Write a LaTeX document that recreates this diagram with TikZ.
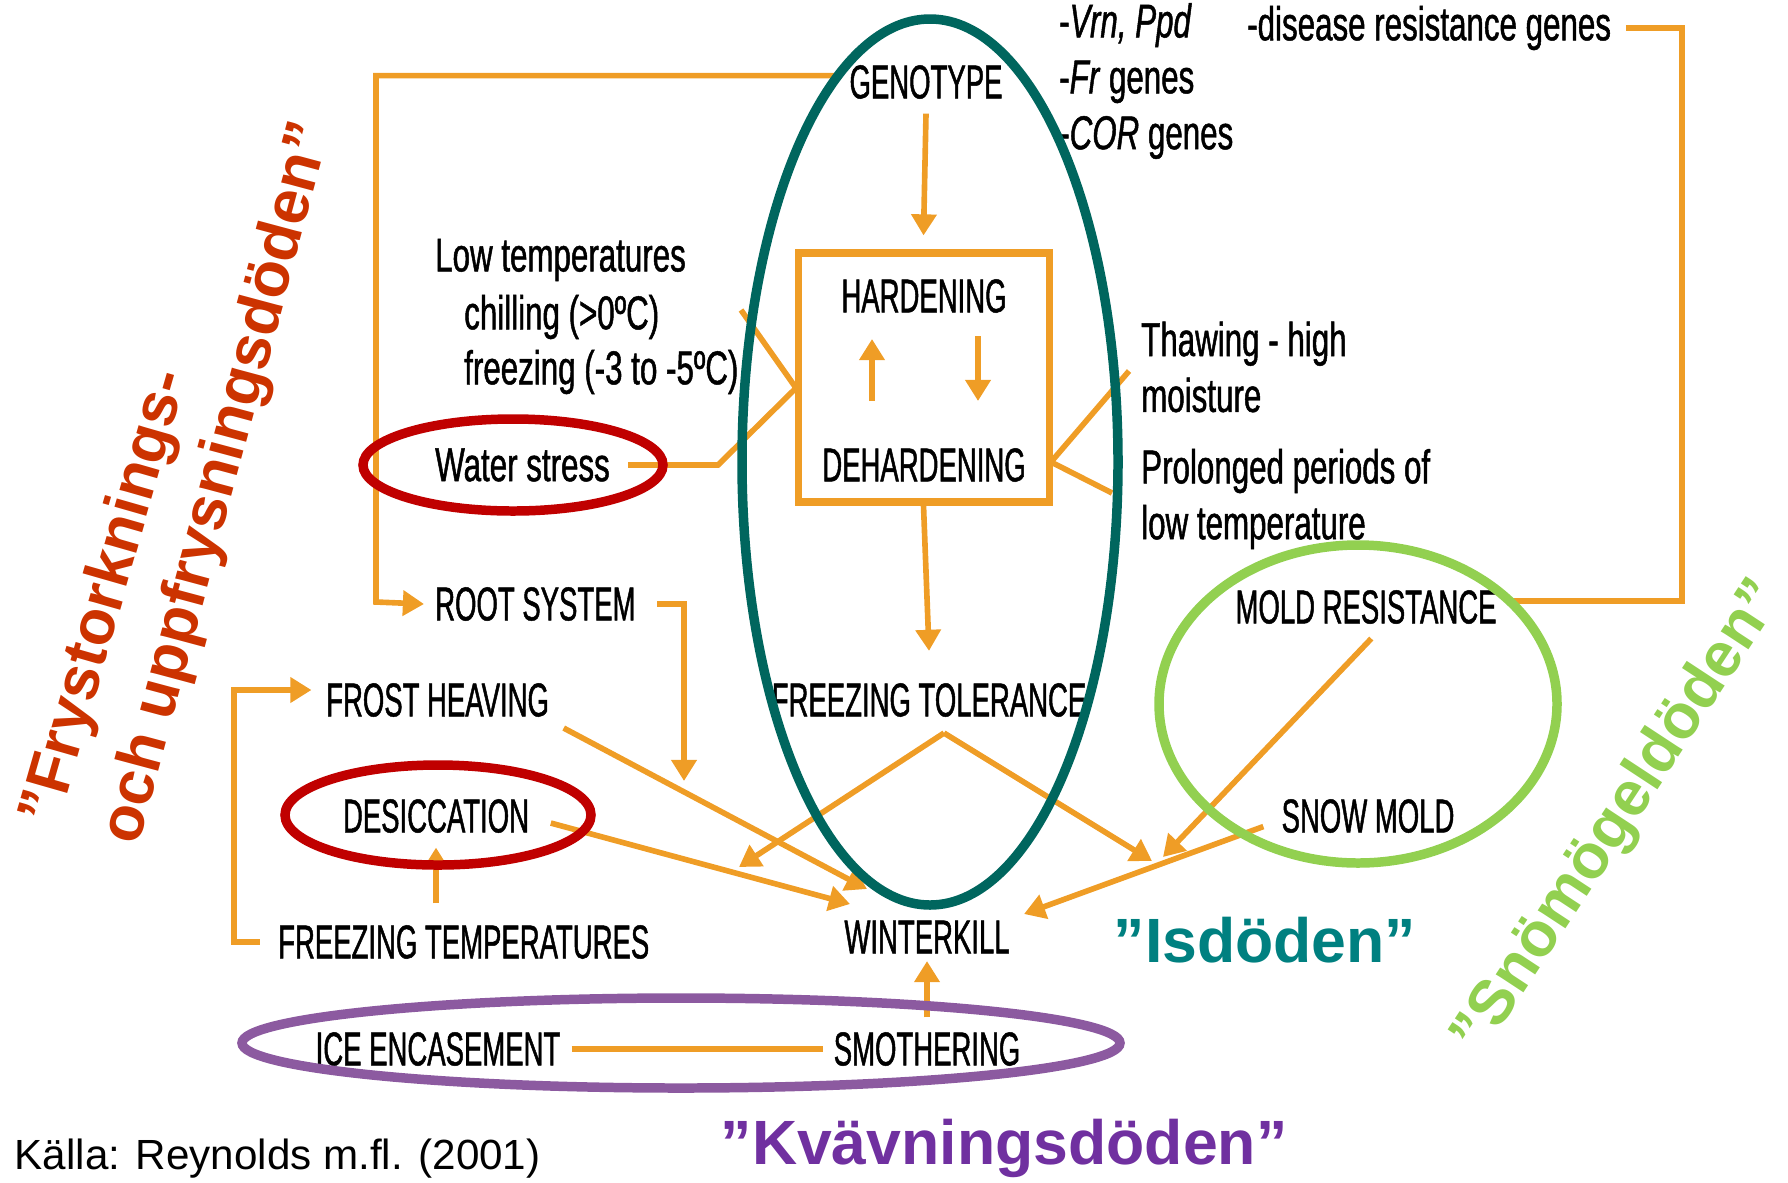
\documentclass[tikz,border=0pt]{standalone}
\usepackage{fontspec}
\setmainfont{Liberation Sans}
\newfontfamily\condcaps[FakeStretch=0.58,FakeBold=1]{Liberation Sans}
\newfontfamily\condtext[FakeStretch=0.66,FakeBold=1]{Liberation Sans}
\usepackage{tikz}
\usetikzlibrary{arrows.meta}
\usetikzlibrary{positioning}
\definecolor{flowor}{RGB}{239,157,38}
\definecolor{ringteal}{RGB}{0,102,94}
\definecolor{ringred}{RGB}{192,0,0}
\definecolor{ringgreen}{RGB}{146,208,80}
\definecolor{ringpurple}{RGB}{140,90,160}
\definecolor{isteal}{RGB}{0,128,128}
\definecolor{kvpurple}{RGB}{112,48,160}
\definecolor{frred}{RGB}{204,51,0}
\tikzset{
  flow/.style={draw=flowor, line width=1.6pt},
  flowarr/.style={flow, -{Triangle[length=6pt,width=7pt]}},
  caps/.style={font=\condcaps\fontsize{13.5}{15.9}\selectfont, inner sep=1pt},
  words/.style={font=\condtext\fontsize{13.5}{15.9}\selectfont, inner sep=1pt, anchor=west},
  death/.style={font=\bfseries\fontsize{17.8}{20}\selectfont, inner sep=0pt},
  ring/.style={line width=2.7pt}
}

\begin{document}
\begin{tikzpicture}
    \useasboundingbox (0,0) rectangle (17.88,11.82);

    \node[caps] (genotype) at (9.26,11.00) {GENOTYPE};
    \node[words, align=left] (genes) at (10.55,11.01) {-\textit{Vrn, Ppd}\\-\textit{Fr} genes\\-\textit{COR} genes};
    \node[words] (disease) at (12.43,11.54) {-disease resistance genes};

    \node[draw=flowor, line width=2pt, minimum width=2.51cm, minimum height=2.49cm] (hdbox) at (9.235,8.045) {};
    \node[caps] (hard) at (9.24,8.86) {HARDENING};
    \node[caps] (dehard) at (9.24,7.17) {DEHARDENING};

    \node[words] (lowtemp) at (4.31,9.22) {Low temperatures};
    \node[words] (chill) at (4.60,8.65) {chilling (>0ºC)};
    \node[words] (freeze) at (4.60,8.10) {freezing (-3 to -5ºC)};
    \node[words] (water) at (4.31,7.17) {Water stress};
    \node[words, align=left] (thaw) at (11.37,8.15) {Thawing - high\\moisture};
    \node[words, align=left] (prolong) at (11.37,6.83) {Prolonged periods of\\low temperature};

    \node[caps, anchor=west] (root) at (4.31,5.78) {ROOT SYSTEM};
    \node[caps] (freezetol) at (9.29,4.82) {FREEZING TOLERANCE};
    \node[caps, anchor=west] (frost) at (3.22,4.82) {FROST HEAVING};
    \node[caps] (desic) at (4.36,3.66) {DESICCATION};
    \node[caps, anchor=west] (freezetemp) at (2.74,2.40) {FREEZING TEMPERATURES};
    \node[caps] (winterkill) at (9.27,2.45) {WINTERKILL};
    \node[caps] (moldres) at (13.66,5.75) {MOLD RESISTANCE};
    \node[caps] (snow) at (13.68,3.66) {SNOW MOLD};
    \node[caps] (ice) at (4.38,1.33) {ICE ENCASEMENT};
    \node[caps] (smother) at (9.27,1.33) {SMOTHERING};

    \coordinate (gtcorner) at (3.76,5.80);
    \coordinate (rootdrop) at (6.84,4.01);
    \coordinate (ftcorner) at (2.34,4.92);
    \coordinate (lowtop) at (7.41,8.72);
    \coordinate (tempin) at (7.96,7.94);
    \coordinate (waterbend) at (7.18,7.17);
    \coordinate (dejoin) at (10.51,7.20);
    \coordinate (thawend) at (11.29,8.11);
    \coordinate (prolend) at (11.12,6.89);
    \coordinate (upA) at (8.72,7.81);
    \coordinate (upB) at (8.72,8.43);
    \coordinate (downA) at (9.78,8.46);
    \coordinate (downB) at (9.78,7.81);
    \coordinate (ftapex) at (9.44,4.49);
    \coordinate (ftleft) at (7.39,3.15);
    \coordinate (ftright) at (11.52,3.21);
    \coordinate (moldhit) at (11.63,3.25);
    \coordinate (wkfrost) at (8.67,2.93);
    \coordinate (wkdesic) at (8.50,2.78);
    \coordinate (wksnow) at (10.24,2.68);
    \coordinate (discorner) at (16.82,5.81);
    \coordinate (moldend) at (15.10,5.81);

    \draw[flowarr] ([yshift=-3pt]genotype.south) -- ([yshift=4pt]hdbox.north);
    \draw[flowarr] ([xshift=-3pt,yshift=1.8pt]genotype.west) -| (gtcorner) -- ([xshift=-2pt]root.west);
    \draw[flow] ([xshift=3pt]disease.east) -| (discorner) -- (moldend);
    \draw[flowarr] (upA) -- (upB);
    \draw[flowarr] (downA) -- (downB);
    \draw[flow] ([xshift=4pt]water.east) -- (waterbend) -- (tempin) -- (lowtop);
    \draw[flow] (thawend) -- (dejoin) -- (prolend);
    \draw[flowarr] (hdbox.south) -- ([yshift=8pt]freezetol.north);
    \draw[flowarr] ([xshift=5pt]root.east) -| (rootdrop);
    \draw[flowarr] ([xshift=-4pt]freezetemp.west) -| (ftcorner) -- ([xshift=-3pt]frost.west |- ftcorner);
    \draw[flowarr] ([xshift=3pt,yshift=-2pt]frost.south east) -- (wkfrost);
    \draw[flowarr] ([yshift=5pt]freezetemp.north -| desic.south) -- ([yshift=-3pt]desic.south);
    \draw[flowarr] ([xshift=5pt,yshift=-2pt]desic.east) -- (wkdesic);
    \draw[flowarr] (ftapex) -- (ftleft);
    \draw[flowarr] (ftapex) -- (ftright);
    \draw[flowarr] ([xshift=1.5pt,yshift=-3pt]moldres.south) -- (moldhit);
    \draw[flowarr] ([xshift=-4pt,yshift=-3pt]snow.west) -- (wksnow);
    \draw[flow] ([xshift=2pt]ice.east) -- ([xshift=-2pt]smother.west);
    \draw[flowarr] ([yshift=3pt]smother.north) -- ([yshift=-1pt]winterkill.south);

    \draw[ring, ringteal] (9.30,7.20) ellipse [x radius=1.88, y radius=4.43];
    \draw[ring, ringred] (5.13,7.17) ellipse [x radius=1.50, y radius=0.46];
    \draw[ring, ringred] (4.38,3.67) ellipse [x radius=1.53, y radius=0.50];
    \draw[ring, ringgreen] (13.58,4.78) ellipse [x radius=1.99, y radius=1.59];
    \draw[ring, ringpurple] (6.81,1.39) ellipse [x radius=4.39, y radius=0.45];

    \node[death, text=isteal] (isdoden) at (12.65,2.42) {”Isdöden”};
    \node[death, text=kvpurple] (kvav) at (10.04,0.34) {”Kvävningsdöden”};
    \node[death, text=ringgreen, rotate=56.7] (snomogel) at (16.20,3.64) {”Snömögeldöden”};
    \node[death, text=frred, rotate=74] (fryst1) at (1.07,5.84) {”Frystorknings-};
    \node[death, text=frred, rotate=75] (fryst2) at (2.19,6.99) {och uppfrysningsdöden”};
    \node[font=\fontsize{12}{14}\selectfont, anchor=west, inner sep=0pt] (kalla) at (0.14,0.23) {Källa: Reynolds m.fl. (2001)};
\end{tikzpicture}
\end{document}
